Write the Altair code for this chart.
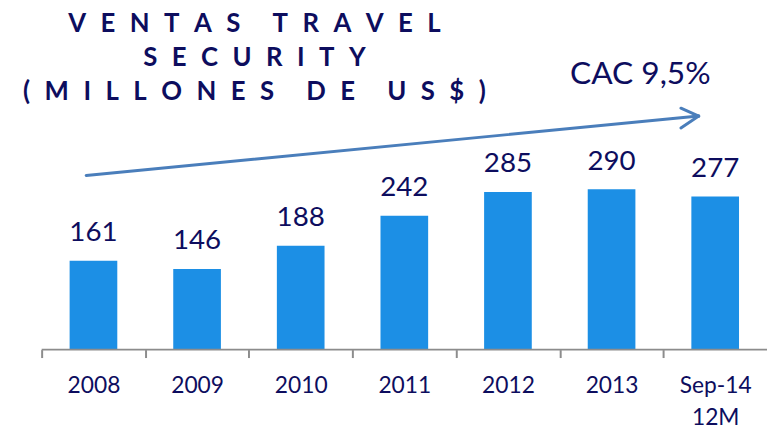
import altair as alt
import pandas as pd

categories = ["2008", "2009", "2010", "2011", "2012", "2013", "Sep-14|12M"]
ventas = [161, 146, 188, 242, 285, 290, 277]
title_lines = ["VENTAS TRAVEL", "SECURITY", "(MILLONES DE US$)"]
cagr_label = "CAC 9,5%"

NAVY = "#0D0D5E"
BAR = "#1C8FE5"
ARROW = "#4A7EBB"
GREY = "#8C8C8C"
FONT = "Lato"

STEP = 733 / 7


def spaced(s):
    words = s.split(" ")
    return "\u2003\u2002".join("\u2002\u200A".join(list(w)) for w in words)


df = pd.DataFrame({"cat": categories, "val": ventas})
one = pd.DataFrame({"zero": [0]})

yscale = alt.Scale(domain=[0, 614], nice=False, zero=True)

x = alt.X("cat:N", sort=categories, title=None,
          scale=alt.Scale(paddingInner=0.54, paddingOuter=0.27),
          axis=alt.Axis(labelExpr="split(datum.label, '|')", labelAngle=0,
                        labelFont=FONT, labelFontSize=23, labelColor=NAVY,
                        labelBaseline="alphabetic", labelPadding=35,
                        labelLineHeight=33, ticks=True, tickOffset=-STEP / 2,
                        labelOffset=STEP / 2, tickSize=8,
                        tickColor=GREY, tickWidth=2, tickOpacity=1,
                        domain=False, grid=False))
y = alt.Y("val:Q", scale=yscale, axis=None)

bars = alt.Chart(df).mark_bar(color=BAR).encode(x=x, y=y)
labels = alt.Chart(df).mark_text(font=FONT, fontSize=28, color=NAVY,
                                 baseline="alphabetic", dy=-20).encode(
    x=x, y=y, text="val:Q")

baseline = alt.Chart(one).mark_rule(color=GREY, strokeWidth=2).encode(
    y=alt.Y("zero:Q", scale=yscale, axis=None), x=alt.value(0), x2=alt.value(733))

arrow_style = dict(color=ARROW, strokeWidth=3, strokeCap="round")
shaft = alt.Chart(one).mark_rule(**arrow_style).encode(
    x=alt.value(45), y=alt.value(167), x2=alt.value(664), y2=alt.value(107))
head1 = alt.Chart(one).mark_rule(**arrow_style).encode(
    x=alt.value(646), y=alt.value(99), x2=alt.value(664), y2=alt.value(107))
head2 = alt.Chart(one).mark_rule(**arrow_style).encode(
    x=alt.value(646), y=alt.value(119), x2=alt.value(664), y2=alt.value(107))

cac = alt.Chart(one).mark_text(font=FONT, fontSize=32, color=NAVY, align="left",
                               baseline="alphabetic").encode(
    x=alt.value(534), y=alt.value(75), text=alt.value(cagr_label))

title_layers = []
for line, ypos in zip(title_lines, [22, 56, 91]):
    title_layers.append(
        alt.Chart(one).mark_text(font=FONT, fontSize=26, fontWeight="bold",
                                 color=NAVY, align="center",
                                 baseline="alphabetic").encode(
            x=alt.value(215), y=alt.value(ypos), text=alt.value(spaced(line))))

chart = alt.layer(bars, baseline, labels, shaft, head1, head2, cac,
                  *title_layers).properties(
    width=733, height=343,
    autosize=alt.AutoSizeParams(type="none"),
    padding={"left": 34, "top": 0, "right": 0, "bottom": 80},
).configure_view(stroke=None)

chart.save("out.html", embed_options={"renderer": "svg", "actions": False})
